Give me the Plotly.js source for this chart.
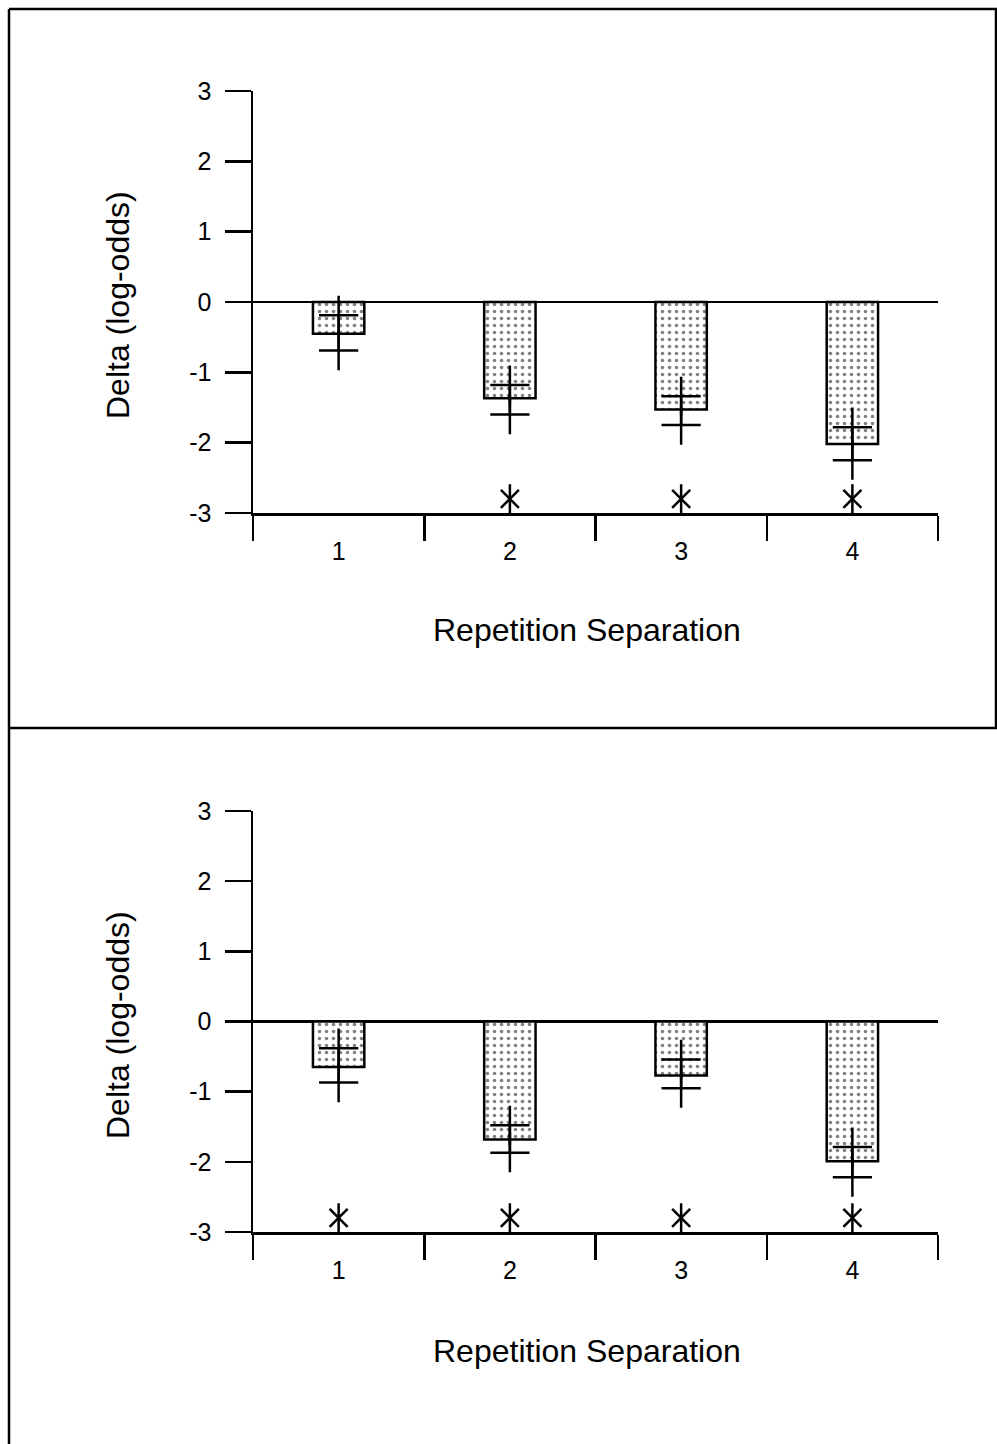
<!DOCTYPE html>
<html>
<head>
<meta charset="utf-8">
<script src="https://cdn.plot.ly/plotly-3.0.1.min.js"></script>
<style>html,body{margin:0;padding:0;background:#fff;}#chart{width:997px;height:1444px;}</style>
</head>
<body>
<div id="chart"></div>
<script>
// ---- data ----
const categories = [1, 2, 3, 4];
const categoryLabels = ['1', '2', '3', '4'];
const categoryBoundaries = [0.5, 1.5, 2.5, 3.5, 4.5];
const yTicks = [-3, -2, -1, 0, 1, 2, 3];

const top_means  = [-0.45, -1.37, -1.53, -2.02];
const top_upper  = [-0.19, -1.18, -1.34, -1.78];
const top_lower  = [-0.69, -1.60, -1.75, -2.25];
const top_star   = [null, -2.8, -2.8, -2.8];

const bot_means  = [-0.65, -1.68, -0.77, -1.99];
const bot_upper  = [-0.38, -1.48, -0.54, -1.79];
const bot_lower  = [-0.87, -1.87, -0.95, -2.22];
const bot_star   = [-2.8, -2.8, -2.8, -2.8];

const xTitle = 'Repetition Separation';
const yTitle = 'Delta (log-odds)';

// ---- layout helpers ----
const W = 997, H = 1444;
const px = v => v / W;
const py = v => 1 - v / H;
const FONT = 'Arial, "Liberation Sans", sans-serif';
const LW = 2.5;

function segs(xs, a, b) {
  const X = [], Y = [];
  xs.forEach((x, i) => { X.push(x, x, null); Y.push(a[i], b[i], null); });
  return {X, Y};
}

function panelTraces(means, upper, lower, star, xa, ya) {
  const s = segs(categories, upper, lower);
  return [
    {type: 'bar', x: categories, y: means, width: 0.3, xaxis: xa, yaxis: ya,
     marker: {color: 'white', line: {color: 'black', width: LW},
              pattern: {shape: '.', fgcolor: 'black', bgcolor: 'white', size: 7, solidity: 0.2, fillmode: 'overlay'}},
     hoverinfo: 'skip', showlegend: false},
    {type: 'scatter', mode: 'lines+markers', x: s.X, y: s.Y, xaxis: xa, yaxis: ya,
     line: {color: 'black', width: LW},
     marker: {symbol: 'cross-thin-open', size: 28, color: 'black', line: {color: 'black', width: LW}},
     hoverinfo: 'skip', showlegend: false, connectgaps: false},
    {type: 'scatter', mode: 'markers', x: categories, y: star, xaxis: xa, yaxis: ya,
     marker: {symbol: 'line-ns-open', size: 21, color: 'black', line: {color: 'black', width: LW}},
     hoverinfo: 'skip', showlegend: false},
    {type: 'scatter', mode: 'markers', x: categories, y: star, xaxis: xa, yaxis: ya,
     marker: {symbol: 'x-thin-open', size: 18, color: 'black', line: {color: 'black', width: LW}},
     hoverinfo: 'skip', showlegend: false}
  ];
}

function xaxisDef(anchor) {
  return {
    domain: [px(253), px(938)], range: [0.5, 4.5], anchor: anchor,
    showline: true, linecolor: 'black', linewidth: LW,
    tickmode: 'array', tickvals: categories, ticktext: categoryLabels,
    ticks: 'outside', ticklen: 14, tickcolor: 'rgba(0,0,0,0)',
    tickfont: {family: FONT, size: 25, color: 'black'},
    minor: {tickmode: 'array', tickvals: categoryBoundaries, ticks: 'outside', ticklen: 25, tickwidth: LW, tickcolor: 'black', showgrid: false},
    showgrid: false, zeroline: false, fixedrange: true
  };
}
function yaxisDef(anchor, top, bottom) {
  return {
    domain: [py(bottom), py(top)], range: [-3, 3], anchor: anchor,
    showline: true, linecolor: 'black', linewidth: LW,
    tickmode: 'array', tickvals: yTicks, ticktext: yTicks.map(String),
    ticks: 'outside', ticklen: 26, tickwidth: LW, tickcolor: 'black',
    ticklabelstandoff: 8,
    tickfont: {family: FONT, size: 25, color: 'black'},
    showgrid: false, zeroline: true, zerolinecolor: 'black', zerolinewidth: LW,
    fixedrange: true
  };
}

const data = [].concat(
  panelTraces(top_means, top_upper, top_lower, top_star, 'x', 'y'),
  panelTraces(bot_means, bot_upper, bot_lower, bot_star, 'x2', 'y2')
);

const frame = {type: 'line', xref: 'paper', yref: 'paper', line: {color: 'black', width: 2.5}};
const layout = {
  width: W, height: H,
  margin: {l: 0, r: 0, t: 0, b: 0},
  paper_bgcolor: 'white', plot_bgcolor: 'white',
  font: {family: FONT, color: 'black'},
  showlegend: false,
  bargap: 0,
  xaxis: xaxisDef('y'),
  yaxis: yaxisDef('x', 91, 513),
  xaxis2: xaxisDef('y2'),
  yaxis2: yaxisDef('x2', 811, 1232),
  shapes: [
    Object.assign({}, frame, {x0: px(9), x1: 1, y0: py(9), y1: py(9)}),
    Object.assign({}, frame, {x0: px(9), x1: px(9), y0: py(9), y1: 0}),
    Object.assign({}, frame, {x0: px(996), x1: px(996), y0: py(9), y1: py(728)}),
    Object.assign({}, frame, {x0: px(9), x1: 1, y0: py(728), y1: py(728)})
  ],
  annotations: [
    {text: xTitle, xref: 'paper', yref: 'paper', x: px(587), y: py(630), xanchor: 'center', yanchor: 'middle', showarrow: false, font: {family: FONT, size: 32, color: 'black'}},
    {text: xTitle, xref: 'paper', yref: 'paper', x: px(587), y: py(1351), xanchor: 'center', yanchor: 'middle', showarrow: false, font: {family: FONT, size: 32, color: 'black'}},
    {text: yTitle, xref: 'paper', yref: 'paper', x: px(118), y: py(305), xanchor: 'center', yanchor: 'middle', textangle: -90, showarrow: false, font: {family: FONT, size: 32, color: 'black'}},
    {text: yTitle, xref: 'paper', yref: 'paper', x: px(118), y: py(1025), xanchor: 'center', yanchor: 'middle', textangle: -90, showarrow: false, font: {family: FONT, size: 32, color: 'black'}}
  ]
};

Plotly.newPlot('chart', data, layout, {staticPlot: true, displayModeBar: false});
</script>
</body>
</html>
